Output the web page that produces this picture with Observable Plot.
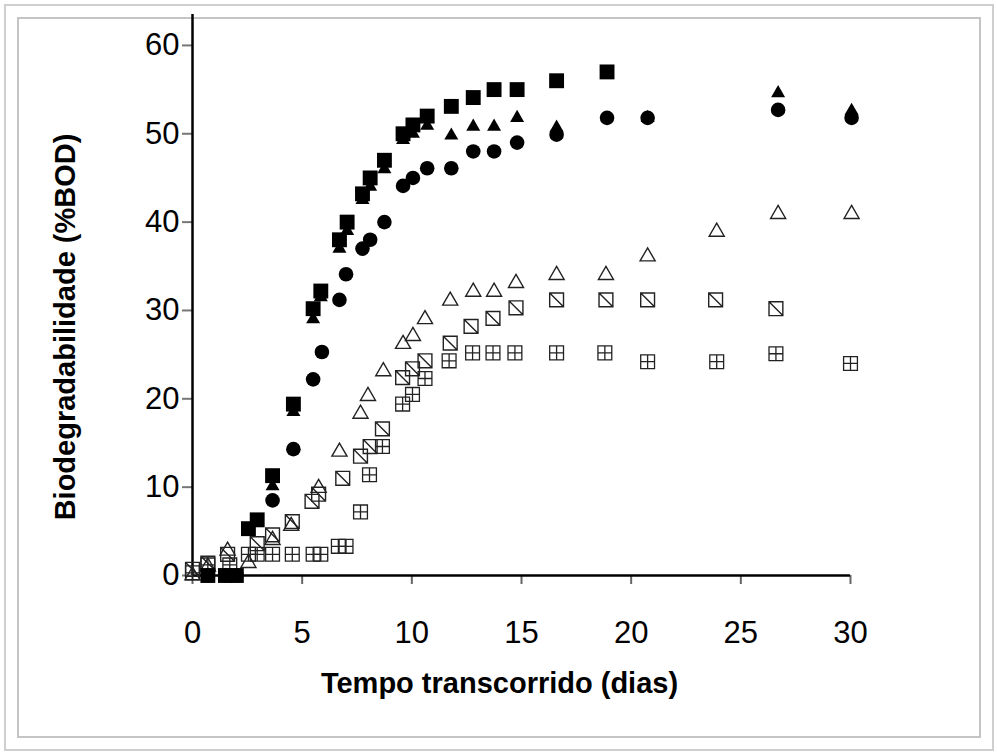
<!DOCTYPE html>
<html>
<head>
<meta charset="utf-8">
<script src="https://cdn.jsdelivr.net/npm/d3@7"></script>
<script src="https://cdn.jsdelivr.net/npm/@observablehq/plot@0.6"></script>
<style>
  html, body { margin: 0; padding: 0; background: #fff; }
  #wrap { position: relative; width: 997px; height: 754px; overflow: hidden; }
  .frame-outer { position: absolute; left: 4px; top: 4px; right: 3px; bottom: 3px; border: 2px solid #cfcfcf; }
  .frame-inner { position: absolute; left: 17px; top: 17px; right: 16px; bottom: 16px; border: 2px solid #c4c4c4; }
  #chart { position: absolute; left: 0; top: 0; }
</style>
</head>
<body>
<div id="wrap">
  <div class="frame-outer"></div>
  <div class="frame-inner"></div>
  <div id="chart"></div>
</div>
<script>
// ---- data (days, %BOD) ----
const xTicks = [0, 5, 10, 15, 20, 25, 30];
const yTicks = [0, 10, 20, 30, 40, 50, 60];
const xLabel = "Tempo transcorrido (dias)";
const yLabel = "Biodegradabilidade (%BOD)";

const filledSquareDays = [0.7, 1.5, 2.0, 2.55, 2.95, 3.65, 4.6, 5.5, 5.85, 6.7, 7.05, 7.75, 8.1, 8.75, 9.6, 10.05, 10.7, 11.8, 12.8, 13.75, 14.8, 16.6, 18.9];
const filledSquareBOD  = [0, 0, 0, 5.3, 6.3, 11.3, 19.4, 30.2, 32.2, 38, 40, 43.2, 45, 47, 50, 51, 52, 53.1, 54.1, 55, 55, 56, 57];

const filledTriangleDays = [0.7, 1.5, 2.0, 2.55, 2.95, 3.65, 4.6, 5.5, 5.85, 6.7, 7.05, 7.75, 8.1, 8.75, 9.6, 10.05, 10.7, 11.8, 12.8, 13.75, 14.8, 16.6, 20.75, 26.7, 30.05];
const filledTriangleBOD  = [0, 0, 0, 5, 6, 10.1, 18.5, 29, 31.5, 37, 39, 42.5, 44, 46, 49.3, 50, 50.9, 49.8, 50.8, 50.8, 51.8, 50.7, 51.8, 54.6, 52.6];

const filledCircleDays = [0.7, 1.5, 2.0, 3.65, 4.6, 5.5, 5.9, 6.7, 7.0, 7.75, 8.1, 8.75, 9.6, 10.05, 10.7, 11.8, 12.8, 13.75, 14.8, 16.6, 18.9, 20.75, 26.7, 30.05];
const filledCircleBOD  = [0, 0, 0, 8.5, 14.3, 22.2, 25.3, 31.2, 34.1, 37, 38, 40, 44.1, 45, 46.1, 46.1, 48, 48, 49, 49.9, 51.8, 51.8, 52.7, 51.8];

const openTriangleDays = [0, 0.7, 1.6, 2.55, 3.65, 4.5, 5.75, 6.7, 7.66, 8.0, 8.7, 9.6, 10.05, 10.6, 11.75, 12.8, 13.75, 14.75, 16.6, 18.85, 20.75, 23.9, 26.7, 30.05];
const openTriangleBOD  = [0, 1, 2.8, 1.4, 4, 5.6, 9.9, 14, 18.3, 20.3, 23.1, 26.2, 27.1, 29, 31.1, 32.1, 32.1, 33.1, 34, 34, 36.1, 38.9, 40.9, 40.9];

const diagSquareDays = [0, 0.7, 1.6, 2.95, 3.65, 4.55, 5.45, 5.75, 6.85, 7.66, 8.1, 8.66, 9.58, 10.03, 10.6, 11.75, 12.7, 13.7, 14.75, 16.6, 18.85, 20.75, 23.85, 26.6];
const diagSquareBOD  = [0.7, 1.4, 2.4, 3.6, 4.6, 6.1, 8.4, 9.2, 11, 13.5, 14.6, 16.6, 22.4, 23.4, 24.3, 26.3, 28.2, 29.1, 30.3, 31.2, 31.2, 31.2, 31.2, 30.2];

const crossSquareDays = [0, 0.7, 1.7, 2.55, 2.95, 3.65, 4.55, 5.5, 5.85, 6.65, 7.0, 7.66, 8.07, 8.66, 9.58, 10.03, 10.6, 11.7, 12.77, 13.7, 14.7, 16.6, 18.8, 20.75, 23.9, 26.6, 30];
const crossSquareBOD  = [0.3, 1.2, 1.2, 2.4, 2.4, 2.4, 2.4, 2.4, 2.4, 3.3, 3.3, 7.2, 11.4, 14.6, 19.4, 20.5, 22.3, 24.3, 25.2, 25.2, 25.2, 25.2, 25.2, 24.2, 24.2, 25.1, 24];

// ---- custom symbols ----
const squareDiag = {
  draw(ctx, size) {
    const s = Math.sqrt(size) / 2;
    ctx.moveTo(-s, -s); ctx.lineTo(s, -s); ctx.lineTo(s, s); ctx.lineTo(-s, s); ctx.closePath();
    ctx.moveTo(-s, -s); ctx.lineTo(s, s);
  }
};
const squareCross = {
  draw(ctx, size) {
    const s = Math.sqrt(size) / 2;
    ctx.moveTo(-s, -s); ctx.lineTo(s, -s); ctx.lineTo(s, s); ctx.lineTo(-s, s); ctx.closePath();
    ctx.moveTo(0, -s); ctx.lineTo(0, s);
    ctx.moveTo(-s, 0); ctx.lineTo(s, 0);
  }
};

const toRows = (days, vals) => days.map((d, i) => ({day: d, bod: vals[i]}));

const chart = Plot.plot({
  width: 997,
  height: 754,
  marginLeft: 192,
  marginRight: 147,
  marginTop: 14,
  marginBottom: 179,
  style: {fontFamily: "'Liberation Sans', Arial, Helvetica, sans-serif", background: "transparent", color: "#000"},
  x: {domain: [0, 30]},
  y: {domain: [0, 63.5]},
  marks: [
    Plot.axisX({ticks: xTicks, tickSize: 9, tickPadding: 36, stroke: "#666", strokeWidth: 2, fontSize: 31, label: null, tickFormat: d => String(d)}),
    Plot.axisY({ticks: yTicks, tickSize: 10, tickPadding: 3, stroke: "#777", strokeWidth: 2, fontSize: 31, label: null, tickFormat: d => String(d)}),
    Plot.ruleY([0], {x1: 0, x2: 30, stroke: "#000", strokeWidth: 2.5}),
    Plot.ruleX([0], {y1: 0, y2: 63.5, stroke: "#000", strokeWidth: 2.5}),
    Plot.dot(toRows(crossSquareDays, crossSquareBOD), {x: "day", y: "bod", symbol: squareCross, r: 7.8, fill: "none", stroke: "#222", strokeWidth: 1.3}),
    Plot.dot(toRows(diagSquareDays, diagSquareBOD), {x: "day", y: "bod", symbol: squareDiag, r: 7.8, fill: "none", stroke: "#222", strokeWidth: 1.4}),
    Plot.dot(toRows(openTriangleDays, openTriangleBOD), {x: "day", y: "bod", symbol: "triangle", r: 5.6, fill: "none", stroke: "#222", strokeWidth: 1.4}),
    Plot.dot(toRows(filledCircleDays, filledCircleBOD), {x: "day", y: "bod", symbol: "circle", r: 7.3, fill: "#000", stroke: "none"}),
    Plot.dot(toRows(filledTriangleDays, filledTriangleBOD), {x: "day", y: "bod", symbol: "triangle", r: 5.2, fill: "#000", stroke: "none"}),
    Plot.dot(toRows(filledSquareDays, filledSquareBOD), {x: "day", y: "bod", symbol: "square", r: 8.4, fill: "#000", stroke: "none"}),
    Plot.text([xLabel], {frameAnchor: "bottom", text: d => d, textAnchor: "middle", dx: -22, dy: 117, fontSize: 29, fontWeight: "bold", fill: "#000"}),
    Plot.text([yLabel], {frameAnchor: "left", text: d => d, textAnchor: "middle", rotate: -90, dx: -127, dy: 32, fontSize: 29, fontWeight: "bold", fill: "#000"})
  ]
});
document.getElementById("chart").appendChild(chart);
</script>
</body>
</html>
